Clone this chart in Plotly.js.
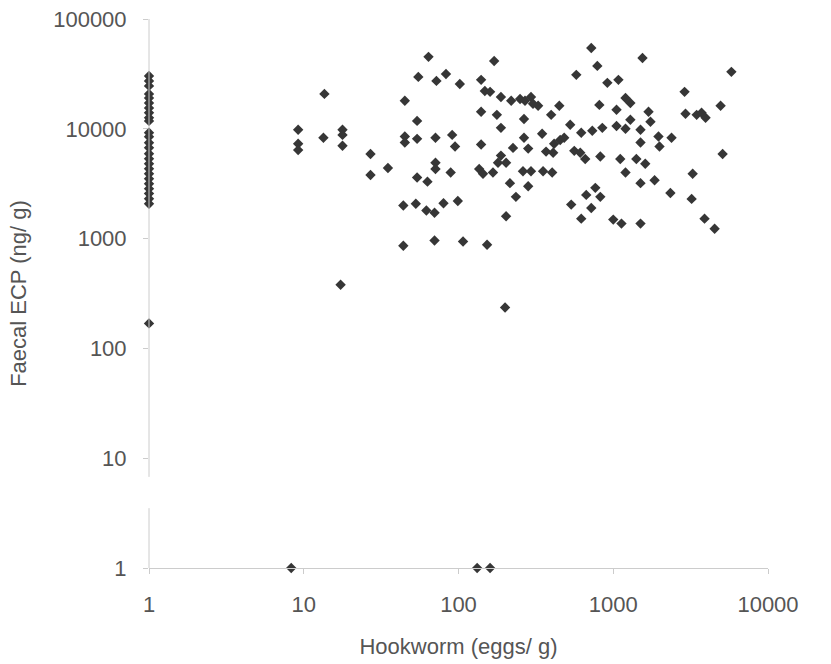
<!DOCTYPE html>
<html>
<head>
<meta charset="utf-8">
<script src="https://cdn.plot.ly/plotly-3.0.1.min.js"></script>
<style>html,body{margin:0;padding:0;background:#fff;}#chart{width:831px;height:664px;}</style>
</head>
<body>
<div id="chart"></div>
<script>
// Samples with no hookworm eggs (plotted at 1 on the log x axis)
const zeroEggsX = [1,1,1,1,1,1,1,1,1,1,1,1,1,1,1,1,1,1,1,1,1,1,1,1,1,1];
const zeroEggsECP = [30300,27300,24600,20800,19100,17200,15500,14000,12600,11800,9200,8460,7460,6720,5930,5340,4810,4330,3900,3510,3160,2850,2570,2310,2080,169];

// Samples with hookworm eggs
const hookEggs = [
  64,55,72,13.6,45,54,9.2,13.4,17.8,17.8,17.8,9.2,9.2,45,45,54,71,27,35,27,54,71,71,63,44,53,62,70,70,44,17.3,
  83,102,140,170,148,160,140,91,95,140,89,136,144,167,180,80,99,107,153,
  188,219,250,269,294,303,327,448,577,177,265,397,188,527,621,265,347,415,454,482,225,282,368,409,560,612,659,188,203,261,294,352,403,215,282,235,203,200,
  721,1545,789,916,1080,5800,2890,1200,1290,813,1050,1690,1740,1290,4940,2930,3460,3720,3950,732,850,1050,1200,1500,1960,2380,1500,1990,825,1110,1410,1610,1200,3260,5090,766,669,825,721,1500,1850,2340,3210,621,1000,1130,1500,3890,4520,535
];
const hookECP = [
  45200,29700,27300,20800,18000,11800,9800,8300,9800,8800,7000,7300,6400,8500,7500,8100,8300,5900,4400,3800,3600,4900,4300,3300,2000,2080,1800,1720,960,860,380,
  31600,25600,27900,41500,22100,21700,14300,8800,6900,7200,4000,4300,3900,4000,4900,2100,2200,940,880,
  19500,18000,18700,18000,19500,16900,16200,16200,31000,13400,12300,13400,10200,10900,9200,8300,9000,7300,7900,8300,6700,6600,6200,6050,6300,6050,5300,5700,4900,4100,4100,4100,4000,3200,3000,2400,1600,236,
  54500,44200,37400,26200,27900,33000,21700,19100,17200,16500,14900,14300,11600,12100,16200,13700,13400,14000,12600,9600,10200,10600,10000,9800,8500,8300,7500,6900,5600,5300,5300,4800,4000,3900,5900,2900,2500,2400,1900,3200,3400,2600,2300,1520,1490,1370,1370,1520,1230,2040
];

// Samples with undetectable ECP (plotted at 1 on the log y axis)
const zeroECPEggs = [8.3,132,160];
const zeroECPValues = [1,1,1];

const xTickVals = [1,10,100,1000,10000];
const xTickText = ['1','10','100','1000','10000'];
const yTickVals = [1,10,100,1000,10000,100000];
const yTickText = ['1','10','100','1000','10000','100000'];

const markerStyle = {symbol:'diamond', size:8, color:'#363636', line:{width:0}};
const traces = [
  {x:zeroEggsX, y:zeroEggsECP, type:'scatter', mode:'markers', marker:markerStyle, cliponaxis:false},
  {x:hookEggs, y:hookECP, type:'scatter', mode:'markers', marker:markerStyle, cliponaxis:false},
  {x:zeroECPEggs, y:zeroECPValues, type:'scatter', mode:'markers', marker:markerStyle, cliponaxis:false}
];

const axisGrey = '#cccccc';
const textGrey = '#555555';
const layout = {
  width:831, height:664,
  margin:{l:149, r:63, t:19, b:96},
  paper_bgcolor:'#ffffff', plot_bgcolor:'#ffffff',
  showlegend:false,
  font:{family:'"Liberation Sans", Arial, sans-serif', color:textGrey, size:22},
  xaxis:{
    type:'log', range:[0,4], tickvals:xTickVals, ticktext:xTickText,
    showgrid:false, zeroline:false, showline:true, linecolor:axisGrey, linewidth:1,
    ticks:'outside', ticklen:5, tickcolor:axisGrey, ticklabelstandoff:12,
    tickfont:{size:22, color:textGrey},
    title:{text:'Hookworm (eggs/ g)', font:{size:22, color:textGrey}, standoff:22}
  },
  yaxis:{
    type:'log', range:[0,5], tickvals:yTickVals, ticktext:yTickText,
    showgrid:false, zeroline:false, showline:false,
    ticks:'outside', ticklen:5, tickcolor:axisGrey, ticklabelstandoff:12,
    tickfont:{size:22, color:textGrey},
    title:{text:'Faecal ECP (ng/ g)', font:{size:22, color:textGrey}, standoff:20}
  },
  shapes:[
    {type:'line', xref:'paper', yref:'paper', x0:0, x1:0, y0:0, y1:0.109, line:{color:axisGrey, width:1}},
    {type:'line', xref:'paper', yref:'paper', x0:0, x1:0, y0:0.166, y1:1, line:{color:axisGrey, width:1}}
  ]
};

Plotly.newPlot('chart', traces, layout, {staticPlot:true, displayModeBar:false});
</script>
</body>
</html>
